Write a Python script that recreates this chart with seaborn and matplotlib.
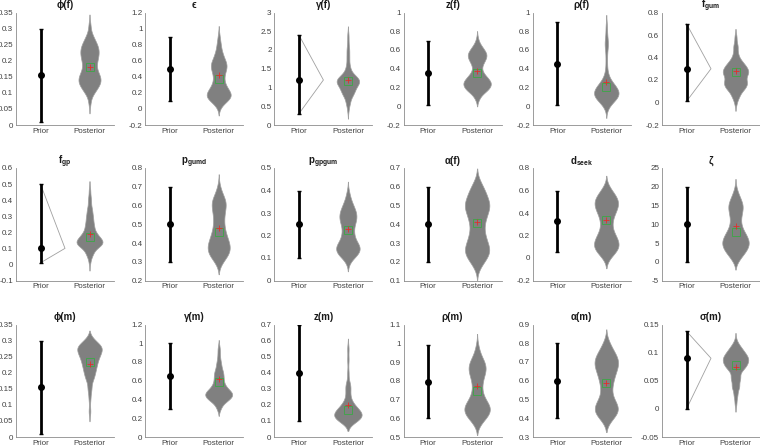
import numpy as np
import pandas as pd
import matplotlib

matplotlib.use("Agg")
import matplotlib.pyplot as plt
import seaborn as sns

# ---- panel data ----
titles = ["ϕ(f)", "ϵ", "γ(f)", "z(f)", "ρ(f)", r"$\mathbf{f_{gum}}$",
          r"$\mathbf{f_{gp}}$", r"$\mathbf{p_{gumd}}$", r"$\mathbf{p_{gpgum}}$", "α(f)", r"$\mathbf{d_{seek}}$", "ζ",
          "ϕ(m)", "γ(m)", "z(m)", "ρ(m)", "α(m)", "σ(m)"]

y_lo = [0, -0.2, 0, -0.2, -0.2, -0.2,
        -0.1, 0.2, 0, 0.1, -0.2, -5,
        0, 0, 0, 0.5, 0.3, -0.05]
y_hi = [0.35, 1.2, 3, 1, 1, 0.8,
        0.6, 0.8, 0.5, 0.7, 0.8, 25,
        0.35, 1.2, 0.7, 1.1, 0.9, 0.15]
y_step = [0.05, 0.2, 0.5, 0.2, 0.2, 0.2,
          0.1, 0.1, 0.1, 0.1, 0.2, 5,
          0.05, 0.2, 0.1, 0.1, 0.1, 0.05]

prior_lo = [0.01, 0.1, 0.3, 0.01, 0.01, 0.01,
            0.01, 0.3, 0.1, 0.2, 0.05, 0,
            0.01, 0.3, 0.1, 0.6, 0.4, 0.0]
prior_hi = [0.3, 0.9, 2.4, 0.7, 0.9, 0.7,
            0.5, 0.7, 0.4, 0.6, 0.6, 20,
            0.3, 1.0, 0.7, 0.99, 0.8, 0.138]
prior_mid = [0.155, 0.5, 1.2, 0.355, 0.455, 0.3,
             0.1, 0.5, 0.25, 0.4, 0.325, 10,
             0.155, 0.65, 0.4, 0.795, 0.6, 0.09]
prior_tri = [False, False, True, False, False, True,
             True, False, False, False, False, False,
             False, False, False, False, False, True]

post_vals = [
    [0.07, 0.10, 0.12, 0.14, 0.16, 0.18, 0.20, 0.22, 0.24, 0.26, 0.28, 0.31],
    [0.05, 0.12, 0.18, 0.25, 0.32, 0.40, 0.48, 0.55, 0.62, 0.70, 0.80, 0.90],
    [0.4, 0.6, 0.8, 0.95, 1.1, 1.2, 1.3, 1.45, 1.6, 1.8, 2.0, 2.2, 2.4],
    [0.1, 0.18, 0.25, 0.32, 0.4, 0.48, 0.55, 0.62, 0.7],
    [0.0, 0.07, 0.13, 0.19, 0.25, 0.32, 0.4, 0.5, 0.6, 0.67, 0.75, 0.85],
    [0.0, 0.06, 0.12, 0.17, 0.22, 0.27, 0.32, 0.37, 0.43, 0.5, 0.58],
    [0.02, 0.07, 0.12, 0.15, 0.19, 0.24, 0.29, 0.34, 0.40, 0.46],
    [0.30, 0.34, 0.38, 0.42, 0.46, 0.50, 0.54, 0.58, 0.62, 0.66, 0.70],
    [0.09, 0.12, 0.15, 0.18, 0.21, 0.24, 0.27, 0.30, 0.33, 0.36, 0.39],
    [0.18, 0.22, 0.26, 0.30, 0.34, 0.38, 0.42, 0.46, 0.50, 0.54, 0.58, 0.62],
    [0.02, 0.08, 0.14, 0.20, 0.26, 0.32, 0.38, 0.44, 0.50, 0.56, 0.62],
    [1, 3, 5, 7, 9, 11, 13, 15, 17, 19],
    [0.08, 0.12, 0.15, 0.18, 0.20, 0.22, 0.24, 0.26, 0.28, 0.30],
    [0.32, 0.40, 0.46, 0.52, 0.58, 0.64, 0.70, 0.78, 0.86, 0.94],
    [0.10, 0.13, 0.16, 0.19, 0.22, 0.26, 0.30, 0.33, 0.40, 0.48, 0.55],
    [0.58, 0.62, 0.66, 0.70, 0.74, 0.78, 0.82, 0.86, 0.90, 0.94, 0.98],
    [0.40, 0.44, 0.48, 0.52, 0.56, 0.60, 0.64, 0.68, 0.72, 0.76, 0.80],
    [0.01, 0.025, 0.04, 0.055, 0.07, 0.08, 0.09, 0.10, 0.11, 0.12],
]
post_counts = [
    [1, 3, 6, 8, 6, 4, 5, 6, 6, 4, 2, 1],
    [2, 7, 9, 6, 4, 4, 5, 6, 4, 3, 2, 1],
    [1, 3, 6, 8, 10, 9, 7, 3, 2, 2, 2, 1, 1],
    [2, 8, 10, 6, 3, 5, 7, 4, 1],
    [2, 8, 11, 9, 5, 2, 1, 1, 1, 2, 1, 1],
    [1, 3, 6, 8, 6, 9, 7, 4, 2, 2, 1],
    [1, 4, 10, 11, 7, 5, 4, 3, 2, 1],
    [3, 8, 9, 7, 5, 4, 4, 5, 6, 3, 1],
    [2, 8, 9, 5, 4, 4, 6, 6, 4, 2, 1],
    [2, 5, 7, 5, 4, 3, 4, 5, 7, 5, 4, 2],
    [3, 7, 7, 5, 3, 3, 4, 6, 7, 5, 2],
    [3, 7, 9, 7, 4, 3, 4, 5, 3, 1],
    [1, 1, 2, 3, 4, 5, 6, 8, 10, 4],
    [2, 7, 10, 5, 3, 3, 3, 2, 1, 1],
    [7, 11, 9, 5, 3, 2, 2, 2, 1, 1, 1],
    [3, 8, 9, 5, 3, 3, 4, 6, 5, 2, 1],
    [4, 8, 6, 3, 3, 4, 5, 7, 7, 4, 2],
    [1, 2, 4, 5, 6, 9, 10, 7, 4, 1],
]
post_mean = [0.18, 0.42, 1.2, 0.38, 0.26, 0.28,
             0.19, 0.48, 0.23, 0.41, 0.34, 9.5,
             0.228, 0.62, 0.2, 0.77, 0.59, 0.075]
post_median = [0.18, 0.37, 1.17, 0.36, 0.21, 0.27,
               0.17, 0.46, 0.225, 0.405, 0.34, 8.0,
               0.232, 0.59, 0.17, 0.745, 0.59, 0.078]

# violin widths (style)
violin_w = [0.45, 0.49, 0.46, 0.56, 0.5, 0.52,
            0.53, 0.45, 0.48, 0.5, 0.5, 0.54,
            0.5, 0.55, 0.56, 0.52, 0.48, 0.52]

order = ["Prior", "Posterior"]

sns.set_style("white")
plt.rcParams["font.family"] = ["Liberation Sans", "DejaVu Sans"]
plt.rcParams["mathtext.fontset"] = "custom"
plt.rcParams["mathtext.bf"] = "Liberation Sans:bold"
plt.rcParams["mathtext.rm"] = "Liberation Sans"

fig = plt.figure(figsize=(7.6, 4.46), dpi=100)
W, H = 760.0, 446.0
row_bottom_px = [125, 280.5, 437]
ax_h_px = 112.5

for i, title in enumerate(titles):
    r, c = divmod(i, 6)
    left = (16 + c * 129.2) / W
    bottom = 1 - row_bottom_px[r] / H
    ax = fig.add_axes([left, bottom, 98 / W, ax_h_px / H])

    samples = np.repeat(post_vals[i], post_counts[i])
    df = pd.DataFrame({"grp": "Posterior", "val": samples})
    sns.violinplot(data=df, x="grp", y="val", order=order, ax=ax,
                   color="#808080", saturation=1, inner=None, cut=2.2,
                   bw_adjust=0.6, width=violin_w[i], linewidth=0.5,
                   linecolor="#a0a0a0")

    xp = order.index("Prior")
    xq = order.index("Posterior")
    if prior_tri[i]:
        ax.plot([xp, xp + 0.5, xp], [prior_lo[i], prior_mid[i], prior_hi[i]],
                color="#a0a0a0", lw=0.6, zorder=1)
    ax.errorbar([xp], [prior_mid[i]],
                yerr=[[prior_mid[i] - prior_lo[i]], [prior_hi[i] - prior_mid[i]]],
                fmt="o", color="black", ms=4, elinewidth=2, capsize=1.5,
                capthick=1, zorder=3)

    ax.plot([xq], [post_median[i]], marker="s", ms=5.5, mfc="none",
            mec="#3aa845", mew=0.6, ls="none", zorder=4)
    ax.plot([xq], [post_mean[i]], marker="+", ms=5, mec="#e0302a",
            mew=0.6, ls="none", zorder=5)

    ax.set_xlim(-0.5, 1.5)
    ax.set_ylim(y_lo[i], y_hi[i])
    ax.set_yticks(np.arange(y_lo[i], y_hi[i] + y_step[i] / 2, y_step[i]))
    ax.yaxis.set_major_formatter(matplotlib.ticker.FormatStrFormatter("%g"))
    ax.set_xticks([xp, xq])
    ax.set_xticklabels(order)
    ax.set_xlabel("")
    ax.set_ylabel("")
    ax.set_title(title, fontsize=7, fontweight="bold", pad=3, color="#1a1a1a")
    for side in ["top", "right"]:
        ax.spines[side].set_visible(False)
    for side in ["left", "bottom"]:
        ax.spines[side].set_color("#8c8c8c")
        ax.spines[side].set_linewidth(0.6)
    ax.tick_params(axis="both", direction="in", length=2.5, width=0.5,
                   colors="#8c8c8c", labelcolor="#404040", labelsize=5.8, pad=2)
    ax.patch.set_alpha(0)

fig.savefig("out.png", dpi=100)
